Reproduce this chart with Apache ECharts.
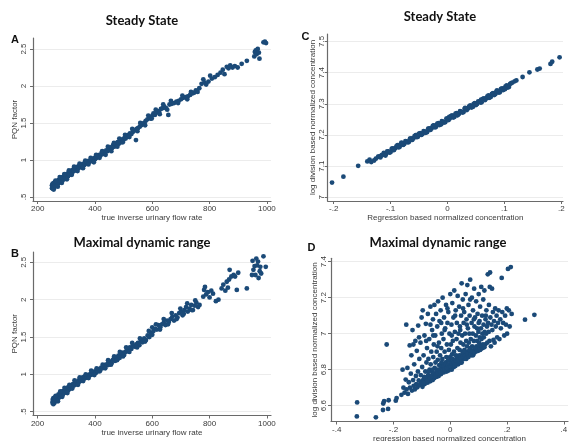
<!DOCTYPE html>
<html>
<head>
<meta charset="utf-8">
<script src="https://cdn.jsdelivr.net/npm/echarts@6/dist/echarts.min.js"></script>
<style>
html, body { margin: 0; padding: 0; background: #fff; }
#chart { width: 572px; height: 441px; }
</style>
</head>
<body>
<div id="chart"></div>
<script>
// ---- data ---------------------------------------------------------------
// Panel A: steady state, true inverse urinary flow rate vs PQN factor
const steadyPqnPoints = [
  [250,0.62],[250,0.66],[251,0.64],[252,0.68],[253,0.61],[254,0.65],[255,0.67],[256,0.63],[257,0.69],[258,0.66],
  [259,0.64],[260,0.7],[261,0.67],[262,0.65],[263,0.69],[265,0.68],[266,0.71],[267,0.66],[268,0.7],[270,0.72],
  [271,0.68],[272,0.71],[274,0.73],[275,0.7],[276,0.72],[278,0.74],[279,0.71],[280,0.75],[282,0.73],[283,0.76],
  [285,0.74],[286,0.72],[288,0.77],[289,0.75],[291,0.78],[292,0.74],[294,0.77],[295,0.79],[297,0.76],[298,0.8],
  [300,0.78],[301,0.81],[303,0.79],[305,0.82],[306,0.78],[308,0.81],[310,0.83],[311,0.8],[313,0.84],[315,0.82],
  [317,0.85],[318,0.83],[320,0.86],[322,0.84],[324,0.87],[326,0.85],[328,0.88],[330,0.86],[332,0.89],[334,0.87],
  [336,0.9],[338,0.88],[340,0.91],[342,0.89],[345,0.92],[347,0.9],[350,0.93],[352,0.91],[355,0.94],[357,0.92],
  [360,0.95],[362,0.93],[365,0.96],[368,0.95],[370,0.97],[373,0.96],[375,0.98],[378,0.97],[380,0.99],[383,0.98],
  [386,1.0],[389,0.99],[392,1.01],[395,1.0],[398,1.03],[400,1.01],[403,1.04],[406,1.03],[409,1.06],[412,1.05],
  [415,1.07],[419,1.06],[423,1.09],[427,1.08],[431,1.11],[435,1.1],[439,1.13],[443,1.12],[447,1.15],[451,1.14],
  [455,1.17],[459,1.16],[463,1.2],[467,1.18],[471,1.22],[475,1.21],[479,1.24],[483,1.22],[487,1.26],[491,1.24],
  [495,1.28],[499,1.27],[503,1.3],[507,1.29],[512,1.32],[517,1.34],[522,1.36],[527,1.35],[532,1.38],[537,1.4],
  [543,1.27],[545,1.42],[550,1.43],[556,1.45],[561,1.47],[566,1.49],[572,1.5],[577,1.53],[583,1.55],[589,1.57],
  [594,1.56],[600,1.6],[604,1.63],[609,1.61],[614,1.64],[619,1.66],[624,1.65],[630,1.69],[636,1.7],[642,1.72],
  [648,1.7],[656,1.61],[660,1.75],[668,1.76],[676,1.77],[684,1.79],[692,1.8],[700,1.82],[708,1.84],[716,1.85],
  [724,1.86],[732,1.88],[740,1.9],[746,1.91],[752,1.94],[758,1.92],[764,1.97],[772,2.03],[778,2.09],[782,2.05],
  [788,2.02],[796,2.06],[802,2.14],[808,2.1],[818,2.12],[828,2.15],[838,2.18],[846,2.22],[852,2.16],[860,2.26],
  [866,2.24],[872,2.28],[880,2.25],[888,2.27],[898,2.25],[912,2.3],[930,2.34],[956,2.4],[958,2.46],[961,2.48],
  [964,2.43],[968,2.5],[972,2.45],[974,2.37],[988,2.59],[993,2.6],[997,2.58],
  [256,0.6],[262,0.72],[270,0.64],[277,0.77],[284,0.69],[293,0.81],[302,0.74],[309,0.86],[319,0.8],[327,0.91],
  [339,0.85],[346,0.95],[358,0.89],[366,0.99],[377,0.94],[385,1.03],[396,0.97],[404,1.07],[416,1.03],[425,1.12],
  [437,1.07],[445,1.18],[457,1.12],[466,1.23],[478,1.18],[485,1.29],[497,1.24],[505,1.34],[520,1.31],[530,1.42],
  [548,1.39],[558,1.5],[575,1.47],[586,1.6],[598,1.56],[612,1.68],[626,1.62],[638,1.75],[652,1.68],[665,1.8],
  [690,1.77],[705,1.87],[722,1.82],[735,1.92]
];

// Panel B: maximal dynamic range, true inverse urinary flow rate vs PQN factor
const dynamicPqnPoints = [
  [252,0.62],[253,0.66],[254,0.64],[255,0.68],[256,0.63],[257,0.65],[258,0.67],[259,0.62],[260,0.69],[261,0.66],
  [262,0.64],[264,0.68],[265,0.7],[266,0.65],[268,0.69],[269,0.71],[270,0.67],[272,0.7],[273,0.73],[275,0.69],
  [276,0.72],[278,0.74],[279,0.7],[281,0.73],[282,0.76],[284,0.72],[285,0.75],[287,0.77],[288,0.73],[290,0.76],
  [291,0.78],[293,0.75],[295,0.79],[296,0.77],[298,0.8],[300,0.78],[302,0.81],[303,0.77],[305,0.8],[307,0.83],
  [308,0.79],[310,0.82],[312,0.84],[314,0.81],[316,0.85],[318,0.83],[320,0.86],[322,0.84],[324,0.87],[326,0.85],
  [328,0.88],[331,0.86],[333,0.89],[335,0.88],[338,0.9],[340,0.89],[343,0.92],[345,0.9],[348,0.93],[350,0.91],
  [353,0.94],[356,0.93],[358,0.96],[361,0.94],[364,0.97],[367,0.95],[370,0.98],[373,0.96],[376,0.99],[379,0.98],
  [382,1.0],[385,0.99],[388,1.02],[391,1.0],[394,1.03],[397,1.01],[400,1.04],[404,1.02],[407,1.05],[411,1.04],
  [414,1.07],[418,1.06],[422,1.09],[426,1.08],[430,1.11],[434,1.1],[438,1.13],[442,1.12],[446,1.15],[450,1.13],
  [454,1.17],[458,1.15],[462,1.19],[466,1.21],[470,1.18],[474,1.23],[478,1.2],[482,1.25],[486,1.22],[490,1.27],
  [494,1.25],[498,1.29],[502,1.26],[507,1.3],[512,1.33],[517,1.31],[522,1.36],[527,1.34],[532,1.38],[538,1.37],
  [544,1.4],[550,1.42],[555,1.39],[561,1.45],[566,1.43],[572,1.48],[578,1.46],[584,1.52],[590,1.5],[596,1.55],
  [600,1.63],[604,1.58],[610,1.61],[616,1.6],[622,1.66],[628,1.63],[634,1.67],[640,1.69],[646,1.66],[652,1.72],
  [658,1.7],[664,1.74],[670,1.77],[676,1.72],[682,1.79],[688,1.76],[694,1.82],[700,1.84],[706,1.79],[712,1.86],
  [718,1.9],[724,1.84],[730,1.88],[736,1.93],[742,1.86],[748,1.92],[754,1.96],[760,1.9],[778,2.04],[781,2.13],
  [784,2.17],[788,2.07],[794,2.1],[800,2.03],[806,2.12],[812,2.08],[822,1.98],[831,2.0],[842,2.15],[848,2.2],
  [855,2.12],[860,2.24],[864,2.16],[868,2.27],[870,2.4],[876,2.31],[884,2.33],[889,2.31],[895,2.13],[900,2.36],
  [930,2.15],[948,2.33],[950,2.52],[953,2.4],[957,2.45],[960,2.33],[963,2.55],[966,2.46],[969,2.51],[971,2.29],
  [975,2.38],[977,2.44],[980,2.35],[988,2.58],[996,2.44],
  [255,0.6],[263,0.71],[271,0.64],[279,0.77],[286,0.7],[294,0.82],[304,0.75],[311,0.86],[321,0.81],[329,0.92],
  [341,0.86],[347,0.96],[359,0.91],[368,1.0],[378,0.95],[387,1.05],[398,0.99],[406,1.08],[417,1.04],[427,1.13],
  [436,1.08],[446,1.19],[456,1.13],[467,1.24],[477,1.19],[487,1.3],[498,1.24],[509,1.36],[520,1.3],[530,1.42],
  [547,1.36],[557,1.48],[575,1.44],[588,1.58],[600,1.53],[613,1.67],[627,1.6],[640,1.74],[655,1.67],[668,1.82],
  [685,1.74],[698,1.88],[710,1.81],[722,1.95],[738,1.86],[750,1.99],[765,1.93]
];

// Panel C: steady state, regression vs log division normalized concentration
const steadyConcPoints = [
  [-0.203,7.047],[-0.183,7.066],[-0.157,7.101],[-0.141,7.115],[-0.137,7.121],[-0.134,7.113],[-0.129,7.118],
  [-0.126,7.124],[-0.122,7.13],[-0.12,7.131],[-0.118,7.128],[-0.116,7.134],[-0.115,7.136],
  [-0.112,7.142],[-0.108,7.139],[-0.104,7.147],[-0.1,7.145],[-0.096,7.157],[-0.092,7.157],[-0.088,7.167],
  [-0.084,7.162],[-0.08,7.174],[-0.076,7.171],[-0.072,7.179],[-0.068,7.177],[-0.064,7.189],[-0.06,7.189],
  [-0.056,7.199],[-0.052,7.194],[-0.048,7.206],[-0.044,7.203],[-0.04,7.211],[-0.036,7.209],[-0.032,7.221],
  [-0.028,7.221],[-0.024,7.231],[-0.02,7.226],[-0.016,7.238],[-0.012,7.235],[-0.008,7.243],[-0.004,7.241],
  [0,7.253],[0.004,7.253],[0.008,7.263],[0.012,7.258],[0.016,7.27],[0.02,7.267],[0.024,7.275],[0.028,7.273],
  [0.032,7.285],[0.036,7.285],[0.04,7.295],[0.044,7.29],[0.048,7.302],[0.052,7.299],[0.056,7.307],[0.06,7.305],
  [0.064,7.317],[0.068,7.317],[0.072,7.327],[0.076,7.322],[0.08,7.334],[0.084,7.331],[0.088,7.339],[0.092,7.337],
  [0.096,7.349],[0.1,7.349],[0.104,7.359],[0.108,7.354],[0.112,7.366],
  [-0.11,7.136],[-0.106,7.147],[-0.102,7.143],[-0.098,7.156],[-0.094,7.152],[-0.09,7.163],[-0.086,7.16],
  [-0.082,7.172],[-0.078,7.168],[-0.074,7.18],[-0.07,7.176],[-0.066,7.188],[-0.062,7.184],[-0.058,7.196],
  [-0.054,7.193],[-0.05,7.204],[-0.046,7.2],[-0.042,7.212],[-0.038,7.208],[-0.034,7.22],[-0.03,7.216],
  [-0.026,7.228],[-0.022,7.224],[-0.018,7.236],[-0.014,7.232],[-0.01,7.244],[-0.006,7.24],[-0.002,7.252],
  [0.002,7.248],[0.006,7.26],[0.01,7.256],[0.014,7.268],[0.018,7.264],[0.022,7.276],[0.026,7.272],[0.03,7.284],
  [0.034,7.28],[0.038,7.292],[0.042,7.288],[0.046,7.3],[0.05,7.296],[0.054,7.308],[0.058,7.304],[0.062,7.316],
  [0.066,7.312],[0.07,7.324],[0.074,7.32],[0.078,7.332],[0.082,7.328],[0.086,7.34],[0.09,7.336],[0.094,7.348],
  [0.098,7.344],[0.102,7.356],[0.106,7.352],[0.11,7.364],
  [-0.109,7.134],[-0.095,7.151],[-0.081,7.175],[-0.067,7.181],[-0.053,7.2],[-0.039,7.207],[-0.025,7.23],
  [-0.011,7.234],[0.003,7.258],[0.017,7.263],[0.031,7.287],[0.045,7.291],[0.059,7.313],[0.073,7.319],
  [0.087,7.343],[0.101,7.347],
  [0.114,7.368],[0.118,7.372],[0.121,7.375],[0.132,7.386],[0.144,7.401],[0.158,7.41],[0.162,7.413],
  [0.181,7.428],[0.184,7.435],[0.197,7.449]
];

// Panel D: maximal dynamic range, regression vs log division normalized concentration
const dynamicConcPoints = [
  [-0.328,6.618],[-0.329,6.54],[-0.262,6.535],[-0.237,6.576],[-0.236,6.612],[-0.233,6.625],
  [-0.219,6.582],[-0.217,6.63],[-0.224,6.94],[-0.192,6.628],[-0.189,6.642],[-0.172,6.66],[-0.168,6.8],
  [-0.155,7.05],
  [-0.165,6.7],[-0.161,6.672],[-0.157,6.745],[-0.154,6.69],[-0.151,6.81],[-0.149,6.665],[-0.146,6.73],[-0.143,6.935],
  [-0.142,6.7],[-0.139,6.778],[-0.137,6.88],[-0.135,6.684],[-0.133,7.02],[-0.131,6.742],[-0.129,6.71],[-0.127,6.83],
  [-0.125,6.69],[-0.123,6.96],[-0.121,6.765],[-0.12,6.72],[-0.118,6.905],[-0.116,6.702],[-0.114,6.79],[-0.113,7.045],
  [-0.111,6.74],[-0.109,6.86],[-0.107,6.715],[-0.105,6.95],[-0.104,6.77],[-0.102,6.73],[-0.101,7.09],[-0.099,6.815],
  [-0.098,6.705],[-0.097,7.13],[-0.095,6.745],[-0.094,6.88],[-0.092,6.76],[-0.091,6.99],[-0.09,6.72],
  [-0.088,6.79],[-0.087,6.735],[-0.086,7.055],[-0.084,6.84],[-0.083,6.75],[-0.082,6.92],[-0.08,6.728],[-0.079,7.11],
  [-0.078,6.77],[-0.077,6.86],[-0.075,6.745],[-0.074,6.97],[-0.073,6.8],[-0.071,6.735],[-0.07,7.15],[-0.069,6.83],
  [-0.068,6.76],[-0.067,6.9],[-0.066,6.75],[-0.064,7.02],[-0.063,6.785],[-0.062,6.742],[-0.061,7.08],[-0.06,6.87],
  [-0.059,6.77],[-0.058,6.94],[-0.057,6.752],[-0.056,7.16],[-0.055,6.81],[-0.054,6.76],[-0.053,6.99],[-0.052,6.84],
  [-0.051,6.775],[-0.05,7.11],[-0.049,6.76],
  [-0.048,6.9],[-0.047,6.8],[-0.046,7.04],[-0.045,6.77],[-0.044,6.855],[-0.043,7.18],[-0.042,6.79],[-0.041,6.765],
  [-0.04,6.95],[-0.039,6.825],[-0.038,7.07],[-0.037,6.78],[-0.036,6.88],[-0.035,6.8],[-0.034,7.13],[-0.033,6.775],
  [-0.032,6.92],[-0.031,6.815],[-0.03,7.0],[-0.029,6.79],[-0.028,6.86],[-0.027,7.2],[-0.026,6.8],[-0.025,6.83],
  [-0.024,6.97],[-0.023,6.785],[-0.022,7.09],[-0.021,6.81],[-0.02,6.9],[-0.019,6.795],[-0.018,7.03],[-0.017,6.84],
  [-0.016,6.8],[-0.015,7.16],[-0.014,6.87],[-0.013,6.79],[-0.012,6.94],[-0.011,6.815],[-0.01,7.06],
  [-0.009,6.8],[-0.008,6.85],[-0.007,7.12],[-0.006,6.795],[-0.005,6.91],[-0.004,6.82],[-0.003,7.0],[-0.002,6.805],
  [-0.001,6.87],[0,7.22],[0.001,6.81],[0.002,6.94],[0.003,6.83],[0.004,7.05],[0.005,6.8],[0.006,6.885],
  [0.007,7.17],[0.008,6.82],[0.009,6.96],[0.01,6.84],[0.011,7.09],[0.012,6.815],[0.013,6.9],[0.014,7.24],
  [0.015,6.83],[0.016,7.01],[0.017,6.855],[0.018,6.82],[0.019,7.13],[0.02,6.88],[0.021,6.835],[0.022,6.97],
  [0.023,7.06],[0.024,6.84],[0.025,6.92],[0.026,7.21],[0.027,6.85],[0.028,6.83],[0.029,7.0],[0.03,6.87],
  [0.031,7.15],[0.032,6.845],[0.033,6.91],[0.034,7.04],[0.035,6.86],[0.036,6.95],[0.037,6.84],[0.038,7.1],
  [0.039,6.88],[0.04,7.28],[0.041,6.855],[0.042,6.99],[0.043,6.9],[0.044,7.19],[0.045,6.865],[0.046,6.94],
  [0.047,7.06],[0.048,6.87],[0.049,7.12],[0.05,6.91],[0.051,6.86],[0.052,7.0],[0.053,6.89],[0.054,7.22],
  [0.055,6.875],[0.056,6.96],[0.057,7.08],[0.058,6.88],[0.059,6.93],[0.06,7.27],[0.061,6.9],[0.062,7.03],
  [0.063,6.885],[0.064,7.16],[0.065,6.95],[0.066,6.9],[0.067,7.0],[0.068,7.1],[0.069,6.895],
  [0.07,7.3],[0.071,6.92],[0.072,6.97],[0.074,6.88],[0.075,7.06],[0.076,7.2],[0.077,6.93],[0.078,6.905],
  [0.079,7.0],[0.08,7.13],[0.082,6.89],[0.083,6.96],[0.084,7.25],[0.085,7.04],[0.086,6.92],[0.087,7.09],
  [0.089,6.9],[0.09,6.99],[0.091,7.18],[0.092,6.93],[0.094,7.03],[0.095,6.96],[0.096,7.11],[0.098,6.905],
  [0.099,7.01],[0.1,7.22],[0.101,6.95],[0.103,7.07],[0.104,6.98],[0.105,7.15],[0.107,6.915],[0.108,7.03],
  [0.109,7.26],[0.11,6.97],[0.112,7.1],[0.113,7.0],[0.114,6.92],[0.116,7.19],[0.117,7.05],[0.118,6.98],
  [0.12,7.24],[0.121,7.01],[0.123,6.94],[0.124,7.08],[0.126,7.0],[0.127,7.13],[0.129,7.04],[0.13,6.95],
  [0.132,7.33],[0.133,7.06],[0.135,7.01],[0.136,7.16],[0.138,6.96],[0.139,7.26],[0.14,7.34],[0.141,7.09],
  [0.143,6.93],[0.145,7.05],[0.147,7.25],[0.148,7.02],[0.15,7.12],[0.152,6.965],[0.154,7.07],[0.156,6.95],
  [0.158,7.14],[0.16,7.04],[0.163,7.1],[0.165,6.98],[0.168,7.06],[0.17,7.13],[0.173,6.97],[0.176,7.08],
  [0.178,7.03],[0.181,7.31],[0.183,7.12],[0.186,7.06],[0.19,6.99],[0.193,7.1],[0.196,7.05],[0.199,7.14],
  [0.2,7.0],[0.203,7.36],[0.206,7.13],[0.209,7.04],[0.213,7.37],[0.216,7.11],[0.263,7.078],[0.296,7.105],
  [-0.095,6.725],[-0.089,6.755],[-0.081,6.74],[-0.076,6.79],[-0.072,6.755],[-0.065,6.765],[-0.062,6.8],[-0.058,6.78],
  [-0.053,6.765],[-0.047,6.79],[-0.044,6.78],[-0.039,6.8],[-0.035,6.785],[-0.031,6.84],[-0.027,6.8],[-0.024,6.815],
  [-0.02,6.8],[-0.016,6.83],[-0.012,6.81],[-0.008,6.825],[-0.004,6.85],[0,6.82],[0.004,6.835],[0.008,6.86],
  [0.012,6.84],[0.016,6.825],[0.02,6.85],[0.024,6.87],[0.028,6.855],[0.032,6.88],[0.036,6.865],[0.04,6.84],
  [0.044,6.875],[0.048,6.9],[0.052,6.88],[0.056,6.86],[0.06,6.89],[0.064,6.87],[0.068,6.91],[0.072,6.885],
  [0.076,6.9],[0.08,6.88],[0.085,6.895],[0.09,6.92],[0.095,6.905],[0.1,6.93],[0.105,6.91],[0.11,6.935],
  [0.115,6.94],[0.12,6.925],
  [-0.085,6.96],[-0.06,6.99],[-0.045,6.93],[-0.02,7.02],[0.005,6.99],[0.035,7.02],[0.058,7.05],[0.083,7.08],
  [0.1,7.06],[0.125,7.1],[-0.11,6.98],[-0.13,6.94],[0.017,7.1],[-0.032,7.06],[0.045,7.14],[0.07,7.19],
  [-0.07,7.05],[-0.01,7.14]
];

// tick values
const flowTicks = [200, 400, 600, 800, 1000];
const pqnTicks = [0.5, 1, 1.5, 2, 2.5];
const steadyConcXTicks = [-0.2, -0.1, 0, 0.1, 0.2];
const steadyConcYTicks = [7, 7.1, 7.2, 7.3, 7.4, 7.5];
const dynamicConcXTicks = [-0.4, -0.2, 0, 0.2, 0.4];
const dynamicConcYTicks = [6.6, 6.8, 7, 7.2, 7.4];

// ---- styling helpers -----------------------------------------------------
const FONT = 'Liberation Sans, Arial, sans-serif';
const AXIS_COLOR = '#6a6a6a';
const LABEL_COLOR = '#3a3a3a';
const DOT_COLOR = '#1b4a78';

// numbers printed without a leading zero: .5, -.2
function stataNum(v) {
  const s = String(+(+v).toFixed(4));
  return s.replace(/^(-?)0\./, '$1.');
}

function xAxisFor(gridIndex, min, max, ticks, name, nameGap) {
  return {
    type: 'value', gridIndex, min, max,
    name, nameLocation: 'middle', nameGap,
    nameTextStyle: { fontSize: 8, color: LABEL_COLOR, fontFamily: FONT },
    axisLine: { show: true, onZero: false, lineStyle: { color: AXIS_COLOR, width: 1.2 } },
    axisTick: { show: true, length: 3, customValues: ticks, lineStyle: { color: AXIS_COLOR } },
    axisLabel: { customValues: ticks, formatter: stataNum, fontSize: 8, color: LABEL_COLOR, margin: 4, fontFamily: FONT },
    splitLine: { show: false }
  };
}

function yAxisFor(gridIndex, min, max, ticks, name, nameGap, labelMargin) {
  return {
    type: 'value', gridIndex, min, max,
    name, nameLocation: 'middle', nameGap,
    nameTextStyle: { fontSize: 8, color: LABEL_COLOR, fontFamily: FONT },
    axisLine: { show: true, onZero: false, lineStyle: { color: AXIS_COLOR, width: 1.2 } },
    axisTick: { show: true, length: 3, customValues: ticks, lineStyle: { color: AXIS_COLOR } },
    axisLabel: { customValues: ticks, formatter: stataNum, fontSize: 8, color: LABEL_COLOR, margin: labelMargin, rotate: 90, fontFamily: FONT },
    splitLine: { show: true, lineStyle: { color: '#ececec', width: 1 } }
  };
}

function scatterFor(index, data) {
  return {
    type: 'scatter', xAxisIndex: index, yAxisIndex: index, data,
    symbolSize: 4.8, silent: true,
    itemStyle: { color: DOT_COLOR, opacity: 1 }
  };
}

const flowName = 'true inverse urinary flow rate';
const titleFont = 'bold 13px Lato, "Open Sans", sans-serif';
const letterFont = 'bold 11px "Liberation Sans", Arial, sans-serif';

const option = {
  backgroundColor: '#ffffff',
  animation: false,
  grid: [
    { left: 33, top: 38, width: 238, height: 163, outerBoundsMode: 'none' },
    { left: 33, top: 252, width: 238, height: 163.5, outerBoundsMode: 'none' },
    { left: 327.7, top: 34, width: 235.3, height: 167, outerBoundsMode: 'none' },
    { left: 331, top: 258.3, width: 237, height: 163.2, outerBoundsMode: 'none' }
  ],
  xAxis: [
    xAxisFor(0, 183.6, 1014.3, flowTicks, flowName, 11),
    xAxisFor(1, 184, 1014.3, flowTicks, flowName, 11),
    xAxisFor(2, -0.2106, 0.203, steadyConcXTicks, 'Regression based normalized concentration', 11),
    xAxisFor(3, -0.42, 0.4144, dynamicConcXTicks, 'regression based normalized concentration', 10)
  ],
  yAxis: [
    yAxisFor(0, 0.446, 2.649, pqnTicks, 'PQN factor', 14, 5),
    yAxisFor(1, 0.449, 2.638, pqnTicks, 'PQN factor', 14, 5),
    yAxisFor(2, 6.988, 7.524, steadyConcYTicks, 'log division based normalized concentration', 4, 2),
    yAxisFor(3, 6.512, 7.419, dynamicConcYTicks, 'log division based normalized concentration', 6, 3)
  ],
  series: [
    scatterFor(0, steadyPqnPoints),
    scatterFor(1, dynamicPqnPoints),
    scatterFor(2, steadyConcPoints),
    scatterFor(3, dynamicConcPoints)
  ],
  graphic: [
    { type: 'text', x: 142, y: 21, style: { text: 'Steady State', font: titleFont, fill: '#111', textAlign: 'center', textVerticalAlign: 'middle' } },
    { type: 'text', x: 440, y: 17, style: { text: 'Steady State', font: titleFont, fill: '#111', textAlign: 'center', textVerticalAlign: 'middle' } },
    { type: 'text', x: 142, y: 243, style: { text: 'Maximal dynamic range', font: titleFont, fill: '#111', textAlign: 'center', textVerticalAlign: 'middle' } },
    { type: 'text', x: 438, y: 243, style: { text: 'Maximal dynamic range', font: titleFont, fill: '#111', textAlign: 'center', textVerticalAlign: 'middle' } },
    { type: 'text', x: 15, y: 40, style: { text: 'A', font: letterFont, fill: '#111', textAlign: 'center', textVerticalAlign: 'middle' } },
    { type: 'text', x: 305.5, y: 37, style: { text: 'C', font: letterFont, fill: '#111', textAlign: 'center', textVerticalAlign: 'middle' } },
    { type: 'text', x: 15, y: 254, style: { text: 'B', font: letterFont, fill: '#111', textAlign: 'center', textVerticalAlign: 'middle' } },
    { type: 'text', x: 311.5, y: 248, style: { text: 'D', font: letterFont, fill: '#111', textAlign: 'center', textVerticalAlign: 'middle' } }
  ]
};

const chart = echarts.init(document.getElementById('chart'), null, { renderer: 'canvas' });
chart.setOption(option);
</script>
</body>
</html>
